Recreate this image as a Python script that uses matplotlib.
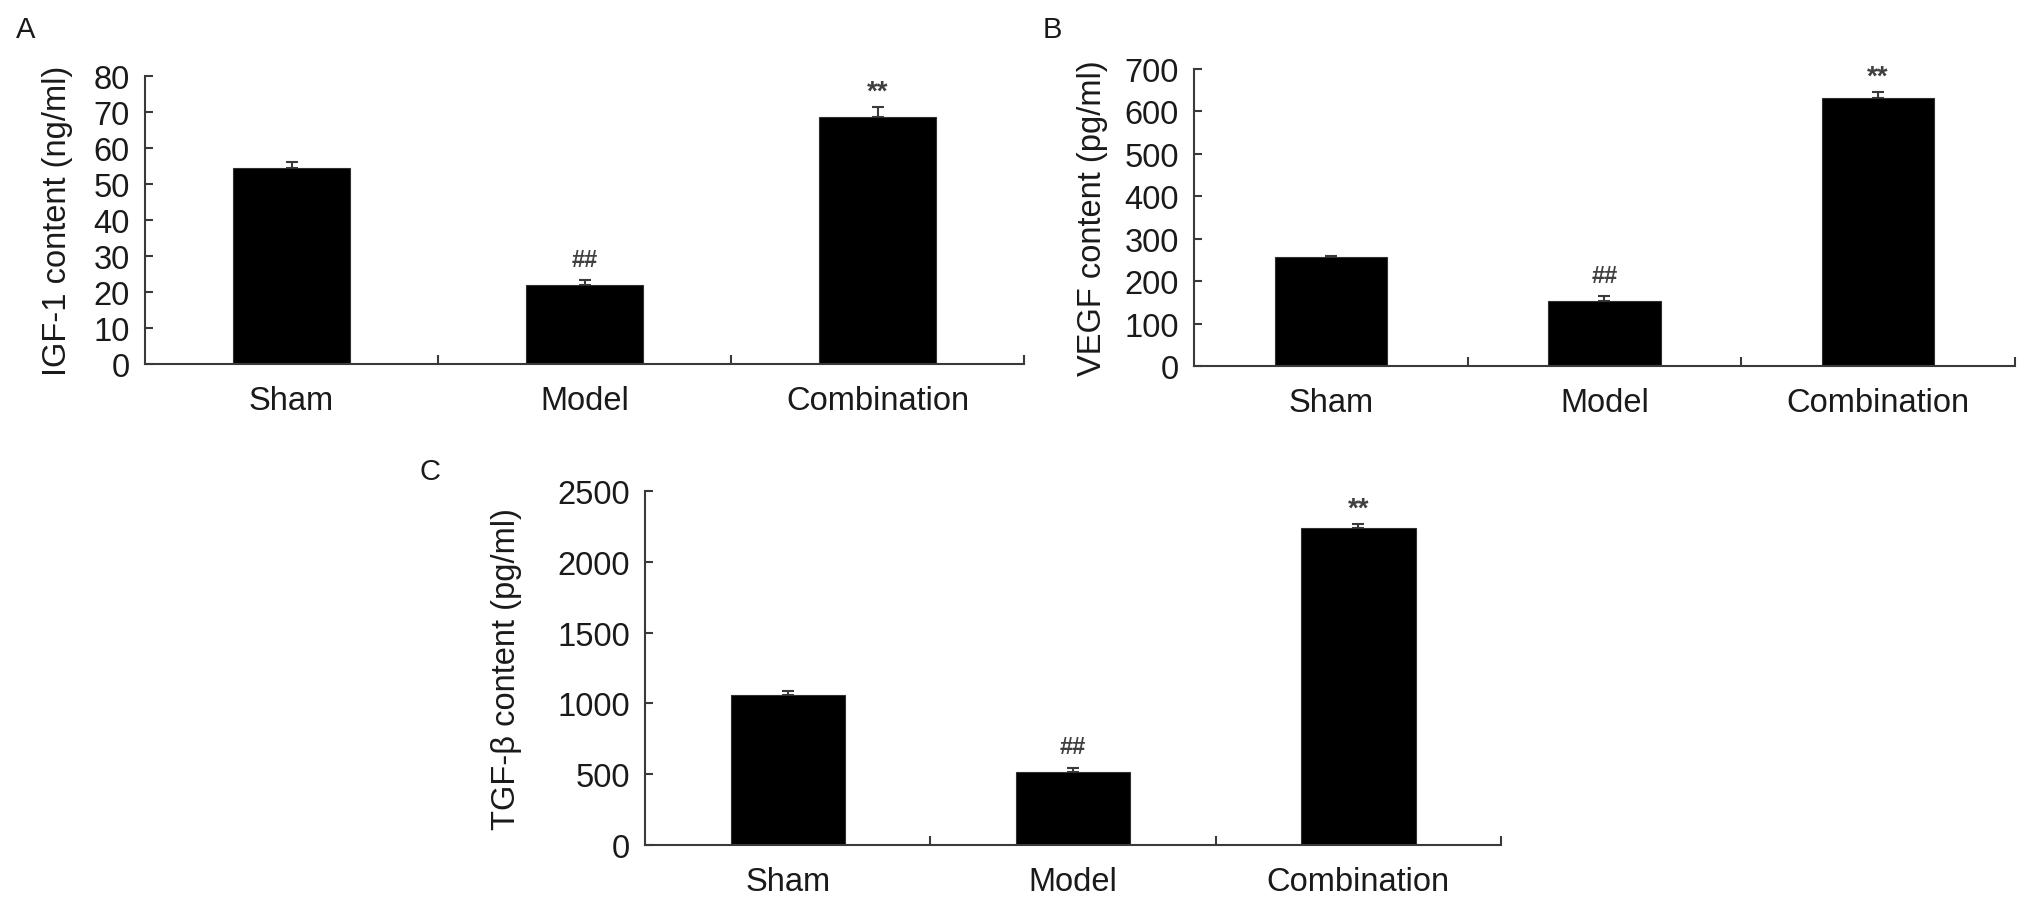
import matplotlib
matplotlib.use("Agg")
import matplotlib.pyplot as plt
from matplotlib.ticker import FixedLocator

plt.rcParams['font.family'] = ['Liberation Sans', 'DejaVu Sans']

categories = ["Sham", "Model", "Combination"]

igf1_values = [54.4, 21.9, 68.6]
igf1_errors = [1.7, 1.4, 2.8]
igf1_ticks = [0, 10, 20, 30, 40, 50, 60, 70, 80]

vegf_values = [258, 153, 632]
vegf_errors = [2, 12, 14]
vegf_ticks = [0, 100, 200, 300, 400, 500, 600, 700]

tgfb_values = [1059, 515, 2239]
tgfb_errors = [25, 30, 30]
tgfb_ticks = [0, 500, 1000, 1500, 2000, 2500]

marks = ["", "##", "**"]

AX_COLOR = "#3a3a3a"
TXT_COLOR = "#1a1a1a"
FS = 23.5

fig = plt.figure(figsize=(20.31, 9.04), dpi=100)

def panel(rect, values, errors, ticks, ylabel, label_x, bar_w):
    ax = fig.add_axes(rect)
    x = list(range(len(categories)))
    ax.bar(x, values, width=bar_w, color="black", edgecolor="#303030", linewidth=0.8, zorder=2)
    ax.errorbar(x, values, yerr=[[0] * len(errors), errors], fmt="none",
                ecolor=AX_COLOR, elinewidth=1.5, capsize=4.3, capthick=1.5, zorder=1)
    ax.set_xlim(-0.5, len(categories) - 0.5)
    ax.set_ylim(ticks[0], ticks[-1])
    ax.set_yticks(ticks)
    ax.set_yticklabels([str(t) for t in ticks])
    ax.set_xticks(x)
    ax.set_xticklabels(categories)
    ax.xaxis.set_minor_locator(FixedLocator([0.5, 1.5, 2.5]))
    ax.tick_params(axis="x", which="major", length=0, pad=15, labelsize=FS, labelcolor=TXT_COLOR)
    ax.tick_params(axis="x", which="minor", direction="in", length=6.5, width=1.5, color=AX_COLOR)
    ax.tick_params(axis="y", direction="in", length=5.8, width=1.5, color=AX_COLOR,
                   pad=11, labelsize=FS, labelcolor=TXT_COLOR)
    for s in ["top", "right"]:
        ax.spines[s].set_visible(False)
    for s in ["left", "bottom"]:
        ax.spines[s].set_color(AX_COLOR)
        ax.spines[s].set_linewidth(1.5)
    ax.set_ylabel(ylabel, fontsize=FS, color=TXT_COLOR, va="center")
    ax.yaxis.set_label_coords(label_x, 0.5)
    for xi, v, e, m in zip(x, values, errors, marks):
        if not m:
            continue
        if m == "##":
            ax.annotate(m, (xi, v + e), xytext=(0, 15), textcoords="offset points",
                        ha="center", va="center", fontsize=17, color="#404040",
                        fontweight="bold")
        else:
            ax.annotate(m, (xi, v + e), xytext=(0, 11), textcoords="offset points",
                        ha="center", va="center", fontsize=20, color="#404040",
                        fontweight="bold")
    return ax

panel([0.0714, 0.5962, 0.4328, 0.3186], igf1_values, igf1_errors, igf1_ticks,
      "IGF-1 content (ng/ml)", -0.100, 0.40)
panel([0.5879, 0.5940, 0.4042, 0.3285], vegf_values, vegf_errors, vegf_ticks,
      "VEGF content (pg/ml)", -0.124, 0.41)
panel([0.3176, 0.0642, 0.4215, 0.3916], tgfb_values, tgfb_errors, tgfb_ticks,
      "TGF-\u03b2 content (pg/ml)", -0.162, 0.40)

fig.text(26 / 2031, 1 - 30 / 904, "A", fontsize=21, ha="center", va="center", color=TXT_COLOR)
fig.text(1052 / 2031, 1 - 30 / 904, "B", fontsize=21, ha="center", va="center", color=TXT_COLOR)
fig.text(430 / 2031, 1 - 472 / 904, "C", fontsize=21, ha="center", va="center", color=TXT_COLOR)

fig.savefig("out.png", dpi=100, facecolor="white")
